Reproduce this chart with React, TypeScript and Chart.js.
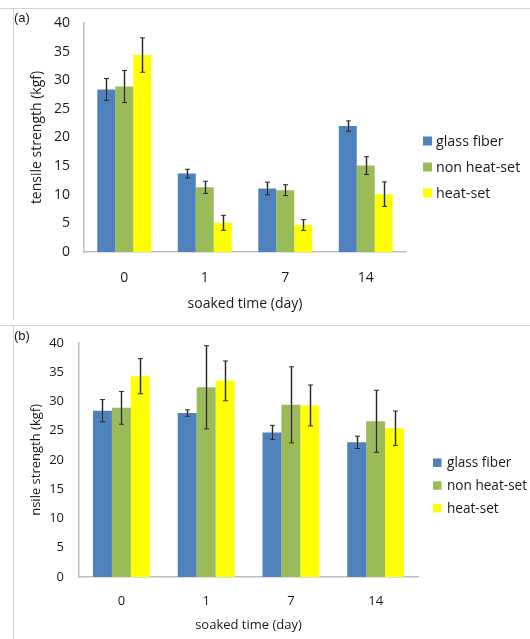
import React, { useEffect, useRef } from 'react';
import { Chart, registerables } from 'chart.js';

Chart.register(...registerables);

// ---------- data ----------
const categories = ['0', '1', '7', '14'];
const seriesNames = ['glass fiber', 'non heat-set', 'heat-set'];
const seriesColors = ['#4F81BD', '#9BBB59', '#FFFF00'];

// panel (a)
const glassA = [28.4, 13.7, 11.1, 22.0];
const glassAErr = [1.9, 0.75, 1.1, 0.9];
const nonA = [28.9, 11.3, 10.8, 15.1];
const nonAErr = [2.8, 1.05, 0.95, 1.55];
const heatA = [34.4, 5.1, 4.7, 10.1];
const heatAErr = [3.0, 1.3, 0.95, 2.15];

// panel (b)
const glassB = [28.4, 28.0, 24.7, 23.0];
const glassBErr = [1.9, 0.55, 1.2, 1.05];
const nonB = [28.9, 32.4, 29.4, 26.6];
const nonBErr = [2.8, 7.1, 6.5, 5.3];
const heatB = [34.3, 33.5, 29.3, 25.4];
const heatBErr = [3.0, 3.4, 3.5, 2.95];

const yMin = 0;
const yMax = 40;
const yStep = 5;

const xTitle = 'soaked time (day)';
const yTitleA = 'tensile strength (kgf)';
const yTitleB = 'nsile strength (kgf)';

const FONT = "'Open Sans', sans-serif";
const TEXT = '#1a1a1a';

// ---------- plugins ----------
const errorBarPlugin = {
  id: 'errorBars',
  afterDatasetsDraw(chart: any) {
    const { ctx } = chart;
    const y = chart.scales.y;
    chart.data.datasets.forEach((ds: any, i: number) => {
      const meta = chart.getDatasetMeta(i);
      const errs: number[] = ds.errors || [];
      meta.data.forEach((bar: any, j: number) => {
        const v = ds.data[j];
        const e = errs[j];
        if (e == null) return;
        const yTop = y.getPixelForValue(v + e);
        const yBot = y.getPixelForValue(v - e);
        const x = Math.round(bar.x) + 0.5;
        ctx.save();
        ctx.strokeStyle = 'rgba(120,120,120,0.6)';
        ctx.lineWidth = 2.2;
        ctx.beginPath();
        ctx.moveTo(x, yTop);
        ctx.lineTo(x, yBot);
        ctx.stroke();
        ctx.strokeStyle = '#2a2a2a';
        ctx.lineWidth = 1;
        ctx.beginPath();
        ctx.moveTo(x, yTop);
        ctx.lineTo(x, yBot);
        ctx.moveTo(x - 2.5, yTop);
        ctx.lineTo(x + 2.5, yTop);
        ctx.moveTo(x - 2.5, yBot);
        ctx.lineTo(x + 2.5, yBot);
        ctx.stroke();
        ctx.restore();
      });
    });
  },
};

const sideLegendPlugin = {
  id: 'sideLegend',
  afterDraw(chart: any, _args: any, opts: any) {
    const { ctx } = chart;
    ctx.save();
    ctx.font = `${opts.fontSize}px ${FONT}`;
    ctx.textBaseline = 'middle';
    ctx.textAlign = 'left';
    chart.data.datasets.forEach((ds: any, i: number) => {
      const cy = opts.y0 + i * opts.dy;
      ctx.fillStyle = ds.backgroundColor;
      ctx.fillRect(opts.x, cy - opts.box / 2, opts.box, opts.box);
      ctx.fillStyle = TEXT;
      ctx.fillText(ds.label, opts.textX, cy + 0.5);
    });
    ctx.restore();
  },
};

function makeConfig(
  series: number[][],
  errors: number[][],
  yTitle: string,
  p: any
) {
  return {
    type: 'bar',
    data: {
      labels: categories,
      datasets: series.map((d, i) => ({
        label: seriesNames[i],
        data: d,
        errors: errors[i],
        backgroundColor: seriesColors[i],
        borderWidth: 0,
        categoryPercentage: 0.67,
        barPercentage: 1,
      })),
    },
    options: {
      responsive: false,
      animation: false,
      devicePixelRatio: 1,
      layout: { padding: { top: p.padTop, right: p.padRight, left: 0, bottom: 0 } },
      plugins: {
        legend: { display: false },
        tooltip: { enabled: false },
        sideLegend: p.legend,
      },
      scales: {
        x: {
          afterFit(s: any) {
            s.height = p.xHeight;
          },
          grid: { display: false, drawTicks: false },
          border: { display: true, color: '#bfbfbf', width: 1.5 },
          ticks: {
            color: TEXT,
            font: { family: FONT, size: p.font },
            padding: p.xTickPad,
          },
          title: {
            display: true,
            text: xTitle,
            color: TEXT,
            font: { family: FONT, size: p.font },
            padding: { top: 0, bottom: p.xTitlePad },
          },
        },
        y: {
          min: yMin,
          max: yMax,
          afterFit(s: any) {
            s.width = p.yWidth;
          },
          grid: { display: false, drawTicks: false },
          border: { display: true, color: '#bfbfbf', width: 1.5 },
          ticks: {
            stepSize: yStep,
            color: TEXT,
            font: { family: FONT, size: p.font },
            padding: p.yTickPad,
          },
          title: {
            display: true,
            text: yTitle,
            color: TEXT,
            font: { family: FONT, size: p.font },
            padding: { top: p.yTitlePad, bottom: 0 },
          },
        },
      },
    },
    plugins: [errorBarPlugin, sideLegendPlugin],
  } as any;
}

function ChartPanel({ config, width, height, top }: any) {
  const ref = useRef<HTMLCanvasElement>(null);
  useEffect(() => {
    const chart = new Chart(ref.current as HTMLCanvasElement, config);
    return () => chart.destroy();
  }, []);
  return (
    <canvas
      ref={ref}
      width={width}
      height={height}
      style={{ position: 'absolute', left: 0, top, width, height }}
    />
  );
}

const configA = makeConfig(
  [glassA, nonA, heatA],
  [glassAErr, nonAErr, heatAErr],
  yTitleA,
  {
    padTop: 23,
    padRight: 124,
    xHeight: 68,
    yWidth: 84,
    font: 14,
    xTickPad: 18,
    xTitlePad: 7.6,
    yTickPad: 14,
    yTitlePad: 28.6,
    legend: { x: 423, textX: 436, y0: 141, dy: 26, box: 9, fontSize: 14.3 },
  }
);

const configB = makeConfig(
  [glassB, nonB, heatB],
  [glassBErr, nonBErr, heatBErr],
  yTitleB,
  {
    padTop: 19,
    padRight: 112,
    xHeight: 62,
    yWidth: 79,
    font: 13,
    xTickPad: 16.5,
    xTitlePad: 6.2,
    yTickPad: 15,
    yTitlePad: 28.2,
    legend: { x: 433, textX: 447, y0: 142.7, dy: 22.8, box: 8.5, fontSize: 13.6 },
  }
);

export default function App() {
  const line = '#d4d4d4';
  const label: React.CSSProperties = {
    position: 'absolute',
    left: 14,
    fontFamily: "'Liberation Sans', Arial, sans-serif",
    fontSize: 13,
    lineHeight: '15px',
    color: TEXT,
  };
  return (
    <div
      style={{
        position: 'absolute',
        left: 0,
        top: 0,
        width: 530,
        height: 639,
        background: '#fff',
        overflow: 'hidden',
      }}
    >
      <ChartPanel config={configA} width={530} height={320} top={0} />
      <ChartPanel config={configB} width={530} height={319} top={320} />
      <div style={{ position: 'absolute', left: 0, top: 8, width: 530, height: 1, background: line }} />
      <div style={{ position: 'absolute', left: 13, top: 8, width: 1, height: 312, background: line }} />
      <div style={{ position: 'absolute', left: 0, top: 325, width: 530, height: 1, background: line }} />
      <div style={{ position: 'absolute', left: 13, top: 325, width: 1, height: 314, background: line }} />
      <div style={{ ...label, top: 10 }}>(a)</div>
      <div style={{ ...label, top: 328 }}>(b)</div>
    </div>
  );
}
